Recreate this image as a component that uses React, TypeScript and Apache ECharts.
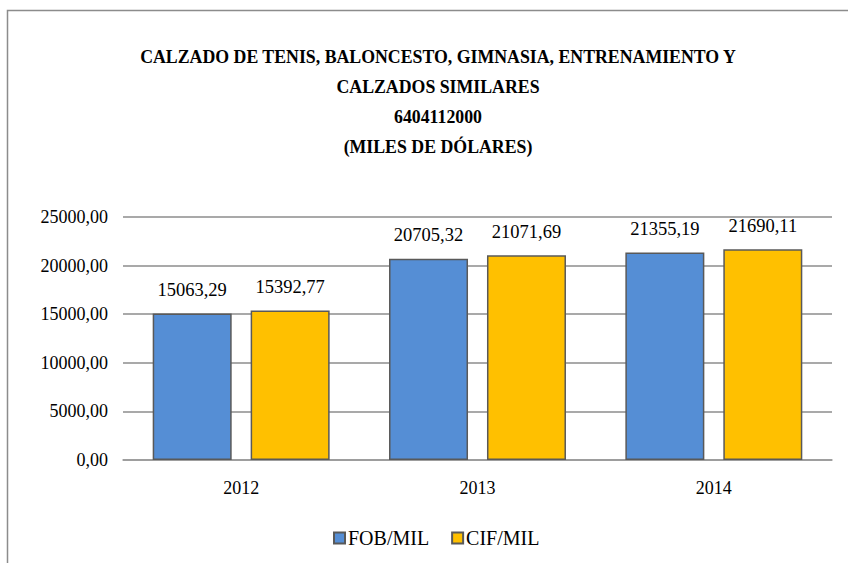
import React, { useEffect, useRef } from "react";
import * as echarts from "echarts";

const years = ["2012", "2013", "2014"];
const fobValues = [15063.29, 20705.32, 21355.19];
const cifValues = [15392.77, 21071.69, 21690.11];
const seriesNames = ["FOB/MIL", "CIF/MIL"];
const titleLines = [
  "CALZADO DE TENIS, BALONCESTO, GIMNASIA, ENTRENAMIENTO Y",
  "CALZADOS SIMILARES",
  "6404112000",
  "(MILES DE DÓLARES)",
];

const fmt = (v: number) => v.toFixed(2).replace(".", ",");
const FONT = "Liberation Serif";

export default function App() {
  const ref = useRef<HTMLDivElement>(null);
  useEffect(() => {
    if (!ref.current) return;
    const chart = echarts.init(ref.current, undefined, { renderer: "svg" });
    const labelCfg = {
      show: true,
      position: "top",
      distance: 14,
      formatter: (p: any) => fmt(p.value),
      fontFamily: FONT,
      fontSize: 18.5,
      color: "#000",
    };
    chart.setOption({
      animation: false,
      backgroundColor: "#fff",
      textStyle: { fontFamily: FONT },
      graphic: [
        {
          type: "rect",
          shape: { x: 7.5, y: 10.5, width: 900, height: 600 },
          style: { fill: "none", stroke: "#8c8c8c", lineWidth: 1.5 },
          silent: true,
        },
      ],
      title: {
        text: titleLines.join("\n"),
        left: 433,
        textAlign: "center",
        top: 37,
        textStyle: {
          fontFamily: FONT,
          fontSize: 17.8,
          fontWeight: "bold",
          lineHeight: 30,
          color: "#000",
        },
      },
      legend: {
        data: seriesNames,
        left: 328,
        top: 523,
        itemWidth: 11,
        itemHeight: 11,
        itemGap: 22,
        icon: "rect",
        textStyle: { fontFamily: FONT, fontSize: 20, color: "#000", padding: [0, 0, 0, -2] },
      },
      grid: { left: 123, right: 16, top: 217, bottom: 103 },
      xAxis: {
        type: "category",
        data: years,
        axisLine: { lineStyle: { color: "#9a9a9a", width: 1.5 } },
        axisTick: { show: false },
        axisLabel: { fontFamily: FONT, fontSize: 18, color: "#000", margin: 19 },
      },
      yAxis: {
        type: "value",
        min: 0,
        max: 25000,
        interval: 5000,
        axisLine: { show: false },
        axisTick: { show: false },
        splitLine: { lineStyle: { color: "#8c8c8c", width: 1.5 } },
        axisLabel: {
          fontFamily: FONT,
          fontSize: 18,
          color: "#000",
          margin: 15,
          formatter: (v: number) => fmt(v),
        },
      },
      series: [
        {
          name: seriesNames[0],
          type: "bar",
          data: fobValues,
          barWidth: 79,
          barGap: "24%",
          itemStyle: { color: "#558ED5", borderColor: "#595959", borderWidth: 1.5 },
          label: labelCfg,
        },
        {
          name: seriesNames[1],
          type: "bar",
          data: cifValues,
          barWidth: 79,
          itemStyle: { color: "#FFC000", borderColor: "#595959", borderWidth: 1.5 },
          label: labelCfg,
        },
      ],
    });
    return () => chart.dispose();
  }, []);
  return (
    <div
      ref={ref}
      style={{ position: "fixed", left: 0, top: 0, width: 848, height: 563 }}
    />
  );
}
